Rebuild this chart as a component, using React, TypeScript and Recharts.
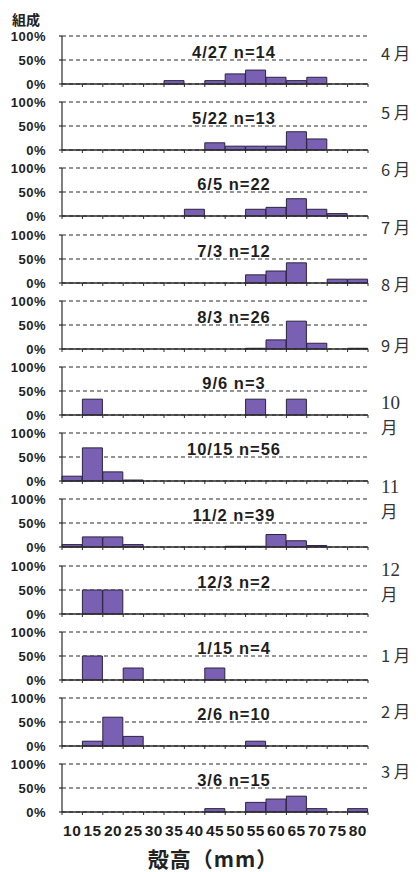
import { BarChart, Bar, XAxis, YAxis, CartesianGrid } from 'recharts'

const SIZES = ['10', '15', '20', '25', '30', '35', '40', '45', '50', '55', '60', '65', '70', '75', '80']
const DATES = ['4/27', '5/22', '6/5', '7/3', '8/3', '9/6', '10/15', '11/2', '12/3', '1/15', '2/6', '3/6']
const COUNTS = [14, 13, 22, 12, 26, 3, 56, 39, 2, 4, 10, 15]

// composition (%) per shell-height class, one array per sampling date
const D0427 = [0, 0, 0, 0, 0, 7, 0, 7, 21, 29, 14, 7, 14, 0, 0]
const D0522 = [0, 0, 0, 0, 0, 0, 0, 15, 8, 8, 8, 38, 23, 0, 0]
const D0605 = [0, 0, 0, 0, 0, 0, 14, 0, 0, 14, 18, 36, 14, 5, 0]
const D0703 = [0, 0, 0, 0, 0, 0, 0, 0, 0, 17, 25, 42, 0, 8, 8]
const D0803 = [0, 0, 0, 0, 0, 0, 0, 0, 0, 1.5, 19, 58, 12, 0, 1.5]
const D0906 = [0, 33, 0, 0, 0, 0, 0, 0, 0, 33, 0, 33, 0, 0, 0]
const D1015 = [10, 69, 19, 2, 0, 0, 0, 0, 0, 0, 0, 0, 0, 0, 0]
const D1102 = [5, 21, 21, 5, 0, 0, 0, 0, 1.5, 1.5, 26, 13, 3, 0, 0]
const D1203 = [0, 50, 50, 0, 0, 0, 0, 0, 0, 0, 0, 0, 0, 0, 0]
const D0115 = [0, 50, 0, 25, 0, 0, 0, 25, 0, 0, 0, 0, 0, 0, 0]
const D0206 = [0, 10, 60, 20, 0, 0, 0, 0, 0, 10, 0, 0, 0, 0, 0]
const D0306 = [0, 0, 0, 0, 0, 0, 0, 7, 0, 20, 27, 33, 7, 0, 7]

const SERIES = [D0427, D0522, D0605, D0703, D0803, D0906, D1015, D1102, D1203, D0115, D0206, D0306]

// month labels at the right: [text lines, centre y]
const MONTHS: [string[], number][] = [
  [['4 月'], 53], [['5 月'], 112], [['6 月'], 169], [['7 月'], 227], [['8 月'], 284], [['9 月'], 345],
  [['10', '月'], 402], [['11', '月'], 486], [['12', '月'], 569], [['1 月'], 655], [['2 月'], 711], [['3 月'], 771],
]

const W = 418
const LEFT = 62
const RIGHT = 50
const PLOT_W = W - LEFT - RIGHT
const BAND = PLOT_W / SIZES.length
const PLOT_H = 48
const PAD_TOP = 9
const PITCH = 66.2
const FIRST_TOP = 36
const INK = '#2a2a2a'
const SANS = '"Liberation Sans", Arial, sans-serif'
const JP = '"Noto Sans CJK JP", sans-serif'

function SizeTick({ x, y, payload, index, showLabel }: any) {
  return (
    <g>
      <line x1={x - BAND / 2} x2={x - BAND / 2} y1={y} y2={y + 3} stroke={INK} />
      {index === SIZES.length - 1 && <line x1={x + BAND / 2} x2={x + BAND / 2} y1={y} y2={y + 3} stroke={INK} />}
      {showLabel && (
        <text x={x} y={y + 24} textAnchor="middle" fontSize={15.5} fontWeight={700} fill="#1e1e1e" fontFamily={SANS} letterSpacing={0.5}>
          {payload.value}
        </text>
      )}
    </g>
  )
}

function Panel({ values, idx }: { values: number[]; idx: number }) {
  const last = idx === SERIES.length - 1
  const top = FIRST_TOP + idx * PITCH
  const axisH = last ? 30 : 9
  const data = SIZES.map((s, i) => ({ size: s, v: values[i] }))
  return (
    <div style={{ position: 'absolute', left: 0, top: top - PAD_TOP }}>
      <BarChart width={W} height={PAD_TOP + PLOT_H + axisH} data={data} barCategoryGap={0}
        margin={{ top: PAD_TOP, right: RIGHT, bottom: 0, left: 8 }}>
        <CartesianGrid vertical={false} stroke={INK} strokeWidth={1.2} strokeDasharray="4 3" />
        <XAxis dataKey="size" height={axisH} interval={0} tickLine={false} tickSize={0} tickMargin={0}
          stroke={INK} strokeWidth={1.3} tick={<SizeTick showLabel={last} />} />
        <YAxis domain={[0, 100]} ticks={[0, 50, 100]} interval={0} width={54} tickSize={3} tickMargin={13}
          stroke={INK} strokeWidth={1.2} tickFormatter={(v) => `${v}%`}
          tick={{ fontSize: 13, fontWeight: 700, fill: '#1e1e1e', fontFamily: SANS, letterSpacing: 0.5 }} />
        <Bar dataKey="v" fill="#7a60b2" stroke="#2a2340" strokeWidth={1} isAnimationActive={false} />
      </BarChart>
      <div style={{ position: 'absolute', left: 234, top: PAD_TOP + 16, transform: 'translate(-50%, -50%)', whiteSpace: 'nowrap',
        fontFamily: SANS, fontWeight: 700, fontSize: 16.5, letterSpacing: 1, color: '#1e1e1e', lineHeight: 1 }}>
        {DATES[idx]} n={COUNTS[idx]}
      </div>
    </div>
  )
}

export default function App() {
  return (
    <div style={{ position: 'absolute', left: 0, top: 0, width: W, height: 872, background: '#fff', overflow: 'hidden' }}>
      <div style={{ position: 'absolute', left: 12, top: 19, transform: 'translateY(-50%)', fontFamily: JP, fontWeight: 700,
        fontSize: 14, color: '#222', lineHeight: 1 }}>組成</div>
      {SERIES.map((s, i) => <Panel key={DATES[i]} values={s} idx={i} />)}
      {MONTHS.map(([lines, cy]) => (
        <div key={lines.join('')} style={{ position: 'absolute', left: 381, top: cy, color: '#333', lineHeight: 1 }}>
          {lines.map((t, j) => (
            <div key={j} style={{
              position: 'absolute', top: j * 25, transform: 'translateY(-50%)', whiteSpace: 'nowrap',
              fontFamily: lines.length > 1 && j === 0 ? '"Liberation Serif", serif' : JP,
              fontSize: lines.length > 1 && j === 0 ? 19 : 16.5,
            }}>{t}</div>
          ))}
        </div>
      ))}
      <div style={{ position: 'absolute', left: 213, top: 858, transform: 'translate(-50%, -50%)', whiteSpace: 'nowrap',
        fontFamily: JP, fontWeight: 700, fontSize: 21, color: '#222', lineHeight: 1, letterSpacing: 1 }}>殻高（mm）</div>
    </div>
  )
}
